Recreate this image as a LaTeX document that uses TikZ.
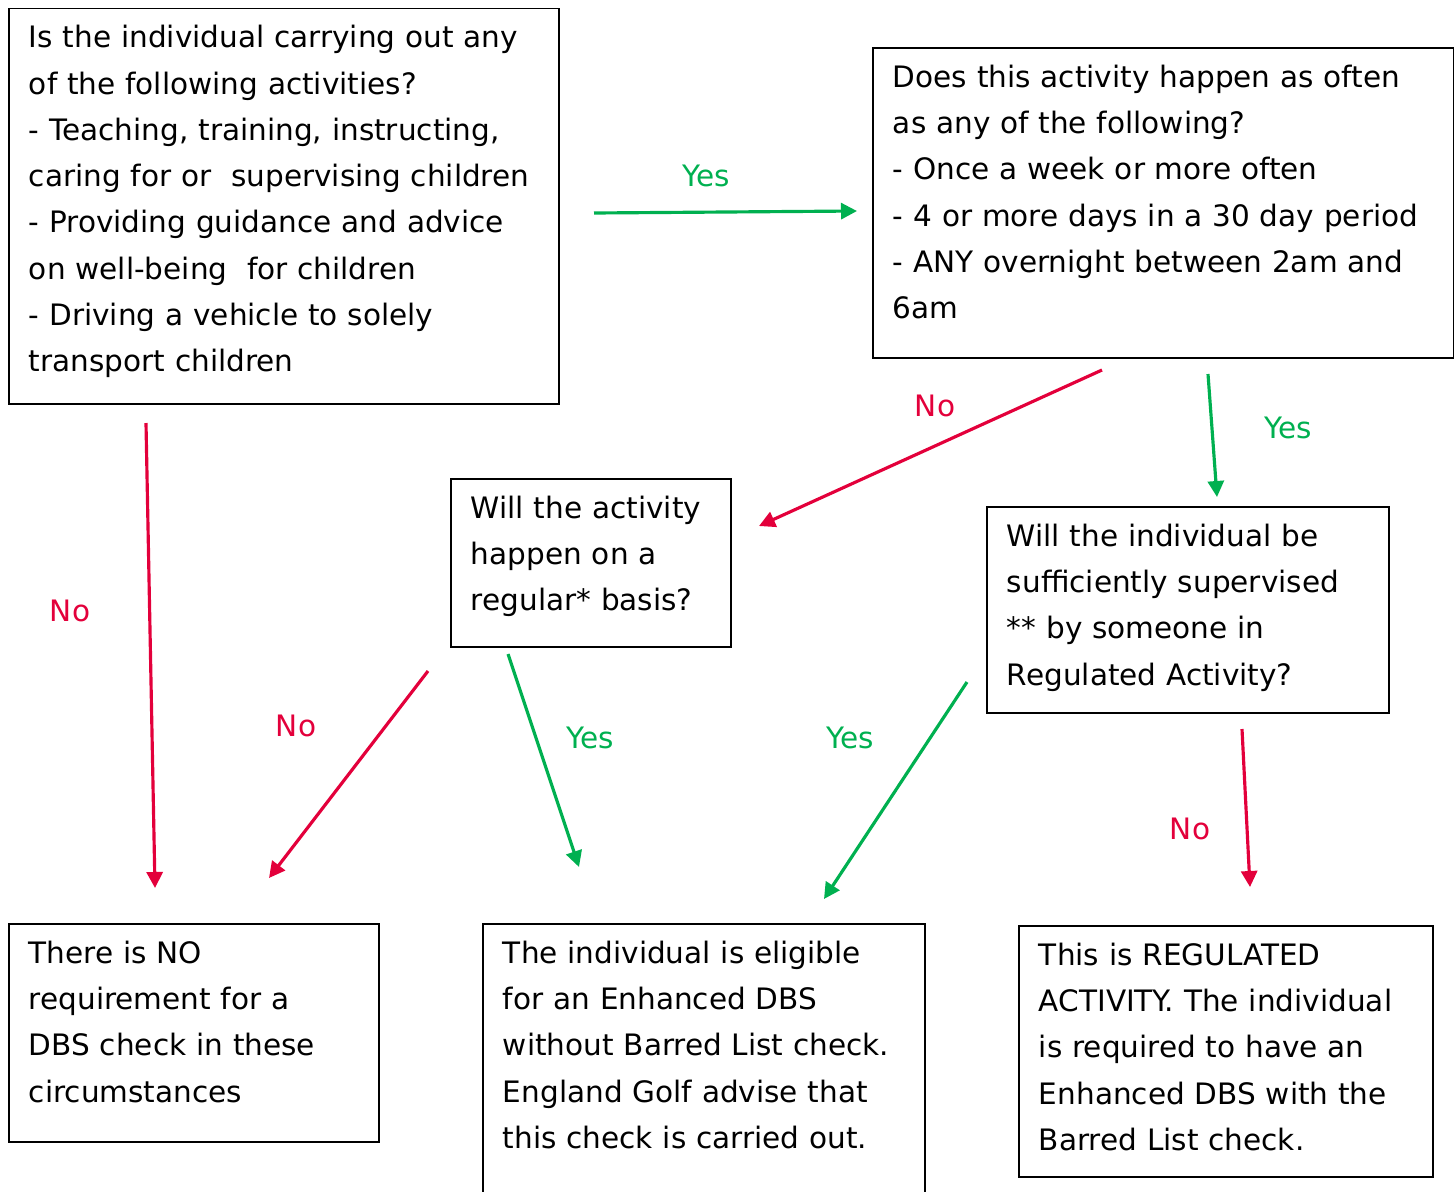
\documentclass[tikz,border=0pt]{standalone}
\usepackage{fontspec}
\setmainfont{DejaVu Sans}
\usetikzlibrary{arrows.meta}
\definecolor{yesgreen}{RGB}{0,176,80}
\definecolor{nored}{RGB}{227,0,59}

\begin{document}
\begin{tikzpicture}[x=0.02cm,y=-0.02cm]

\tikzstyle{box}=[rectangle,draw,line width=1.1pt,anchor=north west,align=left,inner xsep=0.4cm,inner ysep=0cm,text height=0.79cm,font=\fontsize{16.8}{26.3}\selectfont]
\tikzstyle{yes}=[yesgreen,font=\fontsize{16.8}{19}\selectfont]
\tikzstyle{no}=[nored,font=\fontsize{16.8}{19}\selectfont]
\tikzstyle{yesarrow}=[->,yesgreen,line width=1.8pt,>={Triangle[length=0.32cm,width=0.32cm]}]
\tikzstyle{noarrow}=[->,nored,line width=1.8pt,>={Triangle[length=0.32cm,width=0.32cm]}]

\useasboundingbox (0,0) rectangle (1454,1191);

\node[box,text width=10.2cm,text depth=7.13cm]  (activities) at (8,7.5)
  {Is the individual carrying out any\\
   of the following activities?\\
   - Teaching, training, instructing,\\
   caring for or\ \ supervising children\\
   - Providing guidance and advice\\
   on well-being\ \ for children\\
   - Driving a vehicle to solely\\
   transport children};
\node[box,text width=10.82cm,text depth=5.41cm] (often) at (872,47)
  {Does this activity happen as often\\
   as any of the following?\\
   - Once a week or more often\\
   - 4 or more days in a 30 day period\\
   - ANY overnight between 2am and\\
   6am};
\node[box,text width=4.8cm,text depth=2.57cm]   (regular) at (450,478)
  {Will the activity\\
   happen on a\\
   regular* basis?};
\node[box,text width=7.24cm,text depth=3.33cm]  (supervised) at (986,506)
  {Will the individual be\\
   sufficiently supervised\\
   {**} by someone in\\
   Regulated Activity?};
\node[box,text width=6.6cm,text depth=3.57cm]   (nocheck) at (8,923)
  {There is NO\\
   requirement for a\\
   DBS check in these\\
   circumstances};
\node[box,text width=8.04cm,text depth=5.21cm]  (enhanced) at (482,923)
  {The individual is eligible\\
   for an Enhanced DBS\\
   without Barred List check.\\
   England Golf advise that\\
   this check is carried out.};
\node[box,text width=7.48cm,text depth=4.23cm]  (regulated) at (1018,925)
  {This is REGULATED\\
   ACTIVITY. The individual\\
   is required to have an\\
   Enhanced DBS with the\\
   Barred List check.};

\coordinate (a1) at (594,213);  \coordinate (b1) at (857,211);
\coordinate (a2) at (1102,370); \coordinate (b2) at (759,526);
\coordinate (a3) at (1208,374); \coordinate (b3) at (1217,497);
\coordinate (a4) at (146,423);  \coordinate (b4) at (155,888);
\coordinate (a5) at (428,671);  \coordinate (b5) at (269,878);
\coordinate (a6) at (508,654);  \coordinate (b6) at (579,867);
\coordinate (a7) at (967,682);  \coordinate (b7) at (824,899);
\coordinate (a8) at (1242,729); \coordinate (b8) at (1250,887);

\draw [yesarrow] (a1) -- (b1);
\draw [noarrow]  (a2) -- (b2);
\draw [yesarrow] (a3) -- (b3);
\draw [noarrow]  (a4) -- (b4);
\draw [noarrow]  (a5) -- (b5);
\draw [yesarrow] (a6) -- (b6);
\draw [yesarrow] (a7) -- (b7);
\draw [noarrow]  (a8) -- (b8);

\node[yes] (yes1) at (706,176)  {Yes};
\node[no]  (no1)  at (935,406)  {No};
\node[yes] (yes2) at (1288,428) {Yes};
\node[no]  (no2)  at (70,611)   {No};
\node[no]  (no3)  at (296,726)  {No};
\node[yes] (yes3) at (590,738)  {Yes};
\node[yes] (yes4) at (850,738)  {Yes};
\node[no]  (no4)  at (1190,829) {No};

\end{tikzpicture}
\end{document}
